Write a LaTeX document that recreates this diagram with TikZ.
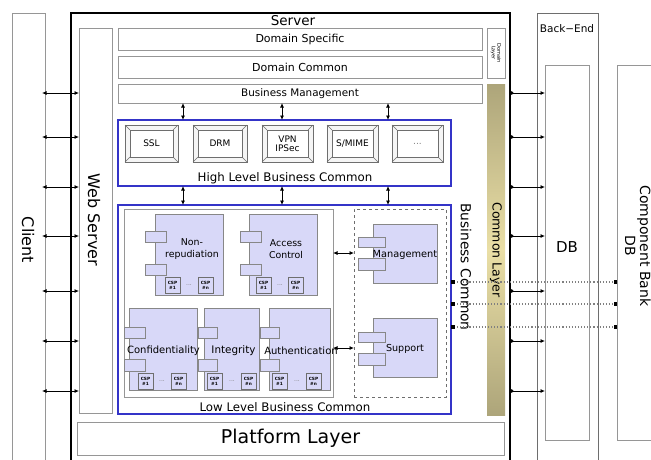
\documentclass[tikz,border=0pt]{standalone}
\usepackage{fontspec}
\setmainfont{DejaVu Sans}
\usetikzlibrary{arrows.meta}
\definecolor{gl}{HTML}{969696}
\definecolor{dgl}{HTML}{6E6E6E}
\definecolor{bl}{HTML}{3434C8}
\definecolor{lav}{HTML}{D8D8F8}
\definecolor{tanA}{HTML}{ADA57A}
\definecolor{tanB}{HTML}{EADFA6}
\newcommand\fs[1]{\fontsize{#1}{#1}\selectfont}
% [opts]{name}{x1}{y1}{x2}{y2}{text}
\newcommand\rbox[7][]{\node[#1, minimum width={#5-#3}, minimum height={#6-#4}] (#2) at ({(#3+#5)/2},{(#4+#6)/2}) {#7};}
\newcommand\bevel[6]{%
  \rbox[bev]{#1}{#2}{#3}{#4}{#5}{}
  \draw[bevl, fill=white] (#2+5,#3+5) rectangle (#4-5,#5-5);
  \draw[bevl] (#1.north west) -- ++(5,5) (#1.north east) -- ++(-5,5)
              (#1.south west) -- ++(5,-5) (#1.south east) -- ++(-5,-5);
  \node[bevtext] (#1l) at (#1.center) {#6};}
\newcommand\cspb[4]{\node[cspbox, anchor=north west] (#1) at (#2,#3) {CSP\\\##4};}
\begin{document}
\begin{tikzpicture}[x=1pt,y=-1pt,
  gbox/.style={draw=gl, line width=0.8pt, fill=white, inner sep=0pt, outer sep=0pt},
  bbox/.style={draw=bl, line width=1.4pt, inner sep=0pt, outer sep=0pt},
  comp/.style={draw=gl!90!black, fill=lav, line width=0.7pt, inner sep=0pt, outer sep=0pt},
  bev/.style={draw=dgl, fill=gray!8, line width=0.7pt, inner sep=0pt, outer sep=0pt},
  bevl/.style={draw=dgl, line width=0.6pt},
  bevtext/.style={font=\fs{9}, align=center, inner sep=0pt},
  cspbox/.style={draw=dgl, fill=lav, line width=0.6pt, minimum width=15, minimum height=16,
     font=\fontsize{4.3}{5}\selectfont\bfseries, align=center, inner sep=0pt, outer sep=0pt},
  lab/.style={inner sep=0pt, align=center},
  arr/.style={{Latex[length=4.5pt,width=4pt]}-{Latex[length=4.5pt,width=4pt]}, line width=0.8pt},
  rarr/.style={{Circle[length=3.5pt]}-{Latex[length=4.5pt,width=4pt]}, line width=0.8pt},
  dotl/.style={dotted, draw=gray, line width=1.1pt, {Square[length=3.5pt,color=black]}-{Square[length=3.5pt,color=black]}}
]
\useasboundingbox (0,0) rectangle (651,459);
\clip (0,0) rectangle (651,459);
\fill[white] (0,0) rectangle (651,459);

% outer columns
\rbox[gbox]{client}{12}{13}{45}{475}{}
\node[lab, rotate=-90, font=\fs{16}] (clientl) at (28,240) {Client};
\rbox[gbox, draw=black, line width=1.8pt]{server}{71}{13}{510}{475}{}
\node[lab, font=\fs{13.5}] (serverl) at (293,21) {Server};
\rbox[gbox]{web}{79}{28}{112}{413}{}
\node[lab, rotate=-90, font=\fs{16}] (webl) at (94,220) {Web Server};

\rbox[gbox, draw=dgl, line width=1pt]{backend}{537}{13}{598}{475}{}
\node[lab, font=\fs{10.5}] (backendl) at (567,29) {Back−End};
\rbox[gbox]{db}{545}{65}{589}{440}{}
\node[lab, font=\fs{15}] (dbl) at (567,247) {DB};
\rbox[gbox]{cbank}{617}{65}{680}{440}{}
\node[lab, rotate=-90, font=\fontsize{14}{15}\selectfont] (cbankl) at (638,246) {Component Bank\\DB};

% server layers
\rbox[gbox, font=\fs{11}]{ds}{118}{28}{482}{50}{Domain Specific}
\rbox[gbox, font=\fs{11}]{dc}{118}{56}{482}{78}{Domain Common}
\rbox[gbox, font=\fs{10.4}]{bm}{118}{84}{482}{103}{Business Management}
\rbox[gbox]{dl}{487}{28}{505}{78}{}
\node[lab, rotate=-90, font=\fontsize{5}{5.5}\selectfont] (dll) at (496,53) {Domain\\Layer};
\path[top color=tanA, bottom color=tanA, middle color=tanB] (487,84) rectangle (505,415);
\coordinate (clc) at (496,250);
\node[lab, rotate=-90, font=\fs{12.5}] (cll) at (clc) {Common Layer};
\rbox[gbox, font=\fs{19}]{plat}{77}{422}{504}{455}{Platform Layer}

% high level business common
\rbox[bbox]{hlbc}{118}{120}{451}{186}{}
\node[lab, font=\fs{11.8}] (hlbcl) at (285,178) {High Level Business Common};
\bevel{ssl}{125}{125}{178}{162}{SSL}
\bevel{drm}{193}{125}{247}{162}{DRM}
\bevel{vpn}{262}{125}{313}{162}{VPN\\IPSec}
\bevel{smime}{327}{125}{378}{162}{S/MIME}
\bevel{etc}{392}{125}{443}{162}{\textcolor{gray}{...}}

% low level business common
\rbox[bbox]{llbc}{118}{205}{451}{414}{}
\node[lab, font=\fs{11.8}] (llbcl) at (285,407) {Low Level Business Common};
\rbox[gbox, draw=gl]{inner}{124}{209}{333}{397}{}
\rbox[gbox, draw=dgl, dashed, line width=0.9pt]{dash}{354}{209}{446}{397}{}
\node[lab, rotate=-90, font=\fs{13.8}] (bcl) at (466,267) {Business Common};

% components
\rbox[comp]{nr}{155}{214}{223}{295}{}
\rbox[comp]{nrt1}{145}{231}{166}{242}{}
\rbox[comp]{nrt2}{145}{264}{166}{275}{}
\cspb{nrc1}{165}{277}{1}\cspb{nrc2}{198}{277}{n}
\node[lab, text=gray, font=\fs{6}] (nrd) at (189,285) {...};
\node[lab, font=\fontsize{9.4}{12}\selectfont] (nrl) at (192,249) {Non-\\repudiation};

\rbox[comp]{ac}{249}{214}{317}{295}{}
\rbox[comp]{act1}{240}{231}{261}{242}{}
\rbox[comp]{act2}{240}{264}{261}{275}{}
\cspb{acc1}{256}{277}{1}\cspb{acc2}{288}{277}{n}
\node[lab, text=gray, font=\fs{6}] (acd) at (280,285) {...};
\node[lab, font=\fontsize{9.4}{12}\selectfont] (acl) at (286,249) {Access\\Control};

\rbox[comp]{cf}{129}{308}{197}{390}{}
\rbox[comp]{cft1}{124}{327}{145}{338}{}
\rbox[comp]{cft2}{124}{359}{145}{371}{}
\cspb{cfc1}{138}{373}{1}\cspb{cfc2}{171}{373}{n}
\node[lab, text=gray, font=\fs{6}] (cfd) at (162,381) {...};
\node[lab, font=\fs{10}] (cfl) at (163.5,351) {Confidentiality};

\rbox[comp]{ig}{204}{308}{259}{390}{}
\rbox[comp]{igt1}{198}{327}{217}{338}{}
\rbox[comp]{igt2}{198}{359}{217}{371}{}
\cspb{igc1}{207}{373}{1}\cspb{igc2}{241}{373}{n}
\node[lab, text=gray, font=\fs{6}] (igd) at (232,381) {...};
\node[lab, font=\fs{10.4}] (igl) at (233.5,351) {Integrity};

\rbox[comp]{au}{269}{308}{330}{390}{}
\rbox[comp]{aut1}{260}{327}{279}{338}{}
\rbox[comp]{aut2}{260}{359}{279}{371}{}
\cspb{auc1}{272}{373}{1}\cspb{auc2}{306}{373}{n}
\node[lab, text=gray, font=\fs{6}] (aud) at (297,381) {...};
\node[lab, font=\fs{10}] (aul) at (301,351) {Authentication};

\rbox[comp]{mg}{373}{224}{437}{283}{}
\rbox[comp]{mgt1}{358}{237}{385}{247}{}
\rbox[comp]{mgt2}{358}{258}{385}{270}{}
\node[lab, font=\fs{9.8}] (mgl) at (405,255) {Management};

\rbox[comp]{sp}{373}{318}{437}{377}{}
\rbox[comp]{spt1}{358}{332}{385}{342}{}
\rbox[comp]{spt2}{358}{353}{385}{365}{}
\node[lab, font=\fs{9.6}] (spl) at (405,349) {Support};

% vertical arrows
\foreach \i/\x in {1/183,2/282,3/388}{
  \coordinate (v\i) at (\x,0);
  \draw[arr] (bm.south -| v\i) -- (hlbc.north -| v\i);
  \draw[arr] (hlbc.south -| v\i) -- (llbc.north -| v\i);
}
% component to management / support
\coordinate (h1) at (0,253);
\coordinate (h2) at (0,348);
\draw[arr] (inner.east |- h1) -- (dash.west |- h1);
\draw[arr] (inner.east |- h2) -- (dash.west |- h2);

% client / back-end arrows
\foreach \i/\y in {1/93,2/137,3/187,4/236,5/291,6/341,7/391}{
  \coordinate (r\i) at (0,\y);
  \draw[arr] ([xshift=-3pt]client.east |- r\i) -- (web.west |- r\i);
  \draw[rarr] (server.east |- r\i) -- (db.west |- r\i);
}
% dotted links to component bank
\foreach \i/\y in {1/282,2/304,3/327}{
  \coordinate (d\i) at (0,\y);
  \draw[dotl] (llbc.east |- d\i) -- (cbank.west |- d\i);
}
\end{tikzpicture}
\end{document}
